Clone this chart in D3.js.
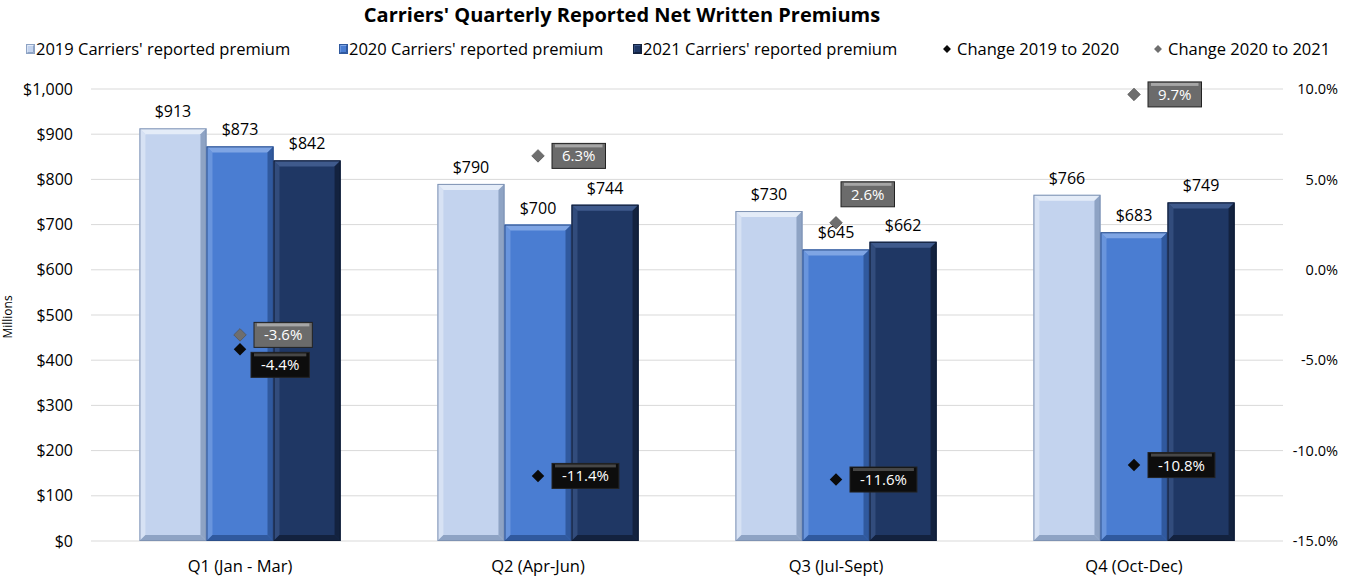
<!DOCTYPE html>
<html>
<head>
<meta charset="utf-8">
<script src="https://cdn.jsdelivr.net/npm/d3@7"></script>
<style>
  body { margin: 0; background: #fff; }
  text { font-family: "Open Sans", "Noto Sans", sans-serif; fill: #000; }
</style>
</head>
<body>
<div id="chart"></div>
<script>
const quarters = ['Q1 (Jan - Mar)', 'Q2 (Apr-Jun)', 'Q3 (Jul-Sept)', 'Q4 (Oct-Dec)']
const prem2019 = [913, 790, 730, 766]
const prem2020 = [873, 700, 645, 683]
const prem2021 = [842, 744, 662, 749]
const change1920 = [-4.4, -11.4, -11.6, -10.8]
const change2021 = [-3.6, 6.3, 2.6, 9.7]
const leftTicks = [0, 100, 200, 300, 400, 500, 600, 700, 800, 900, 1000]
const rightTicks = [-15, -10, -5, 0, 5, 10]

const W = 1347, H = 578
const plot = { left: 91, right: 1283, top: 89, bottom: 541 }

const series = [
	{ name: "2019 Carriers' reported premium", values: prem2019, fill: '#c3d3ee', light: '#e4ecf8', dark: '#8ea3c4', edge: '#7f93b3' },
	{ name: "2020 Carriers' reported premium", values: prem2020, fill: '#4a7dd2', light: '#7fa5e4', dark: '#30599e', edge: '#2c4f8a' },
	{ name: "2021 Carriers' reported premium", values: prem2021, fill: '#1f3764', light: '#3f5a8c', dark: '#13223f', edge: '#0e1a33' }
]

const pct = v => (v < 0 ? '-' : '') + Math.abs(v).toFixed(1) + '%'

const svg = d3.select('#chart').append('svg')
	.attr('width', W)
	.attr('height', H)

const x0 = d3.scaleBand()
	.domain(quarters)
	.range([plot.left, plot.right])
	.paddingInner(0.325)
	.paddingOuter(0.1625)
const x1 = d3.scaleBand()
	.domain(series.map(s => s.name))
	.range([0, x0.bandwidth()])
const y = d3.scaleLinear().domain([0, 1000]).range([plot.bottom, plot.top])
const y2 = d3.scaleLinear().domain([-15, 10]).range([plot.bottom, plot.top])

// title
svg.append('text')
	.attr('x', 622).attr('y', 22)
	.attr('text-anchor', 'middle')
	.style('font-size', '20px').style('font-weight', 'bold')
	.text("Carriers' Quarterly Reported Net Written Premiums")

// gridlines
svg.append('g').selectAll('line')
	.data(leftTicks)
	.join('line')
	.attr('x1', plot.left).attr('x2', plot.right)
	.attr('y1', d => y(d)).attr('y2', d => y(d))
	.attr('stroke', '#d9d9d9').attr('stroke-width', 1)

// left axis
const yAxis = svg.append('g')
	.attr('transform', `translate(${plot.left},0)`)
	.call(d3.axisLeft(y).tickValues(leftTicks).tickSize(0).tickPadding(18)
		.tickFormat(d => '$' + d3.format(',')(d)))
yAxis.select('.domain').remove()
yAxis.selectAll('text').style('font-size', '16px').style('font-family', '"Open Sans", sans-serif').style('fill', '#000')

// right axis
const y2Axis = svg.append('g')
	.attr('transform', `translate(${plot.right},0)`)
	.call(d3.axisRight(y2).tickValues(rightTicks).tickSize(0).tickPadding(55)
		.tickFormat(pct))
y2Axis.select('.domain').remove()
y2Axis.selectAll('text').attr('text-anchor', 'end').style('font-size', '14.5px').style('font-family', '"Open Sans", sans-serif').style('fill', '#000')

// y title
svg.append('text')
	.attr('transform', `translate(12,${(plot.top + plot.bottom) / 2 + 2}) rotate(-90)`)
	.attr('text-anchor', 'middle')
	.style('font-size', '12px')
	.text('Millions')

// category labels
svg.append('g').selectAll('text')
	.data(quarters)
	.join('text')
	.attr('x', d => x0(d) + x0.bandwidth() / 2)
	.attr('y', 572)
	.attr('text-anchor', 'middle')
	.style('font-size', '16.5px')
	.text(d => d)

// bevelled bars
function bevelBar(g, bx, by, bw, bh, s, bev) {
	const b = Math.min(bev || 6, bh / 2)
	g.append('rect').attr('x', bx).attr('y', by).attr('width', bw).attr('height', bh).attr('fill', s.fill)
	g.append('polygon').attr('points', [[bx, by], [bx + bw, by], [bx + bw - b, by + b], [bx + b, by + b]].join(' '))
		.attr('fill', s.light)
	g.append('polygon').attr('points', [[bx, by], [bx + b, by + b], [bx + b, by + bh - b], [bx, by + bh]].join(' '))
		.attr('fill', s.light).attr('opacity', 0.6)
	g.append('polygon').attr('points', [[bx + bw, by], [bx + bw, by + bh], [bx + bw - b, by + bh - b], [bx + bw - b, by + b]].join(' '))
		.attr('fill', s.dark)
	g.append('polygon').attr('points', [[bx, by + bh], [bx + bw, by + bh], [bx + bw - b, by + bh - b], [bx + b, by + bh - b]].join(' '))
		.attr('fill', s.dark)
	g.append('rect').attr('x', bx + 0.5).attr('y', by + 0.5).attr('width', bw - 1).attr('height', bh - 1)
		.attr('fill', 'none').attr('stroke', s.edge).attr('stroke-width', 1)
}

const barsG = svg.append('g')
series.forEach(s => {
	quarters.forEach((q, i) => {
		const bx = x0(q) + x1(s.name)
		const by = y(s.values[i])
		bevelBar(barsG.append('g'), bx, by, x1.bandwidth(), y(0) - by, s)
		barsG.append('text')
			.attr('x', bx + x1.bandwidth() / 2)
			.attr('y', by - 11)
			.attr('text-anchor', 'middle')
			.style('font-size', '16px')
			.text('$' + s.values[i])
	})
})

// change markers
const changeSeries = [
	{ name: 'Change 2019 to 2020', values: change1920, fill: '#0a0a0a', box: '#0d0d0d', boxLight: '#474747' },
	{ name: 'Change 2020 to 2021', values: change2021, fill: '#6e6e6e', box: '#6b6b6b', boxLight: '#a6a6a6' }
]
const diamond = d3.symbol().type(d3.symbolDiamond2).size(100)

const markG = svg.append('g')
changeSeries.forEach((c, k) => {
	quarters.forEach((q, i) => {
		const cx = x0(q) + x0.bandwidth() / 2
		const cy = y2(c.values[i])
		markG.append('path')
			.attr('d', diamond())
			.attr('transform', `translate(${cx},${cy})`)
			.attr('fill', c.fill)
			.attr('stroke', k === 1 ? '#555' : 'none')
			.attr('stroke-width', 0.8)
		const lg = markG.append('g')
		const t = lg.append('text')
			.attr('text-anchor', 'middle')
			.style('font-size', '15px')
			.style('fill', '#fff')
			.text(pct(c.values[i]))
		const tw = t.node().getComputedTextLength()
		const bw = tw + 20, bh = 25
		// label placement: right of marker; Q1 decline below-right, Q3 growth above
		let lx = cx + 14, ly = cy - bh / 2
		if (k === 0 && i === 0) { lx = cx + 11; ly = cy + 3 }
		if (k === 1 && i === 2) { lx = cx + 5; ly = cy - bh - 16 }
		lg.attr('transform', `translate(${lx},${ly})`)
		lg.insert('rect', 'text').attr('width', bw).attr('height', bh).attr('fill', c.box)
		lg.insert('rect', 'text').attr('x', 3).attr('y', 1).attr('width', bw - 6).attr('height', 3).attr('fill', c.boxLight)
		lg.insert('rect', 'text').attr('width', bw).attr('height', bh).attr('fill', 'none').attr('stroke', '#222').attr('stroke-width', 1)
		t.attr('x', bw / 2).attr('y', bh / 2 + 5.5)
	})
})

// legend
const legend = [
	{ label: series[0].name, type: 'rect', s: series[0], x: 26 },
	{ label: series[1].name, type: 'rect', s: series[1], x: 339 },
	{ label: series[2].name, type: 'rect', s: series[2], x: 633 },
	{ label: changeSeries[0].name, type: 'diamond', c: changeSeries[0], x: 947 },
	{ label: changeSeries[1].name, type: 'diamond', c: changeSeries[1], x: 1158 }
]
const lgG = svg.append('g')
legend.forEach(l => {
	const g = lgG.append('g').attr('transform', `translate(${l.x},49)`)
	if (l.type === 'rect') {
		bevelBar(g, 0, -5, 9, 10, Object.assign({}, l.s, { edge: l.s.dark }), 2)
		g.append('text').attr('x', 10).attr('y', 6).style('font-size', '16.5px').text(l.label)
	} else {
		g.append('path').attr('d', d3.symbol().type(d3.symbolDiamond2).size(40)()).attr('fill', l.c.fill)
		g.append('text').attr('x', 10).attr('y', 6).style('font-size', '16.5px').text(l.label)
	}
})
</script>
</body>
</html>
